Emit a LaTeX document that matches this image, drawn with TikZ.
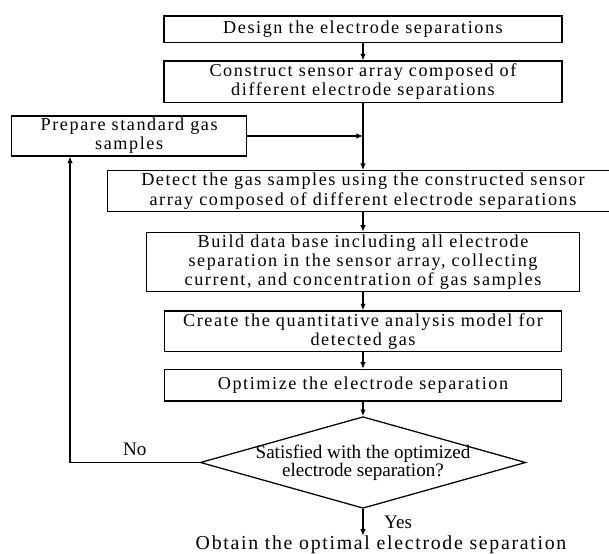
\documentclass[tikz,border=0pt]{standalone}
\usepackage{fontspec}
\setmainfont{Liberation Serif}
\newfontfamily\boxfont[LetterSpace=8.6]{Liberation Serif}
\usetikzlibrary{shapes.geometric, arrows.meta}

\begin{document}
\begin{tikzpicture}[x=0.55pt, y=-0.55pt,
        >={Latex[length=3.6pt,width=3pt]},
        stepbox/.style={draw, line width=0.7pt, inner sep=0pt, align=center,
            font=\boxfont\fontsize{10}{10.5}\selectfont},
        choice/.style={draw, diamond, aspect=3.55, line width=0.7pt, inner xsep=0pt, inner ysep=-3pt,
            align=center, minimum width=179pt, minimum height=50.4pt,
            font=\fontsize{10.5}{10}\selectfont},
        flow/.style={->, line width=0.6pt}]
    \useasboundingbox (0,0) rectangle (609,554);

    \node[stepbox, minimum width=219pt, minimum height=14.7pt] (design) at (363,29.3)
        {Design the electrode separations};
    \node[stepbox, minimum width=219pt, minimum height=22.7pt] (construct) at (363,81.7)
        {Construct sensor array composed of\\different electrode separations};
    \node[stepbox, minimum width=129.3pt, minimum height=22pt] (prepare) at (129.2,136)
        {Prepare standard gas\\samples};
    \node[stepbox, minimum width=280.8pt, minimum height=22.6pt] (detect) at (363,191.2)
        {Detect the gas samples using the constructed sensor\\array composed of different electrode separations};
    \node[stepbox, minimum width=238.5pt, minimum height=32.7pt] (build) at (363,262)
        {Build data base including all electrode\\separation in the sensor array, collecting\\current, and concentration of gas samples};
    \node[stepbox, minimum width=218.1pt, minimum height=22.4pt] (create) at (363,331.3)
        {Create the quantitative analysis model for\\detected gas};
    \node[stepbox, minimum width=218.1pt, minimum height=17.4pt] (optimize) at (363,385.2)
        {Optimize the electrode separation};
    \node[choice] (satisfied) at (363,462.5)
        {Satisfied with the optimized\\electrode separation?};
    \node[inner xsep=0pt, inner ysep=0pt, font=\boxfont\fontsize{10.9}{12}\selectfont] (result) at (381,545)
        {Obtain the optimal electrode separation};
    \coordinate (back) at (70,462.5);

    \draw[flow] (design) -- (construct);
    \draw[flow] (construct.south) -- (construct.south |- detect.north);
    \draw[flow] (prepare.east) -- (prepare.east -| construct.south);
    \draw[flow] (detect.south) -- (build.north);
    \draw[flow] (build.south) -- (create.north);
    \draw[flow] (create.south) -- (optimize.north);
    \draw[flow] (optimize.south) -- (satisfied.north);
    \draw[flow] (satisfied.west) -- node[above, font=\fontsize{10.5}{12}\selectfont] (nolabel) {No} (back) -- (back |- prepare.south);
    \draw[flow] (satisfied.south) -- node[right=8pt, font=\fontsize{10.5}{12}\selectfont] (yeslabel) {Yes} (satisfied.south |- result.north);
\end{tikzpicture}
\end{document}
